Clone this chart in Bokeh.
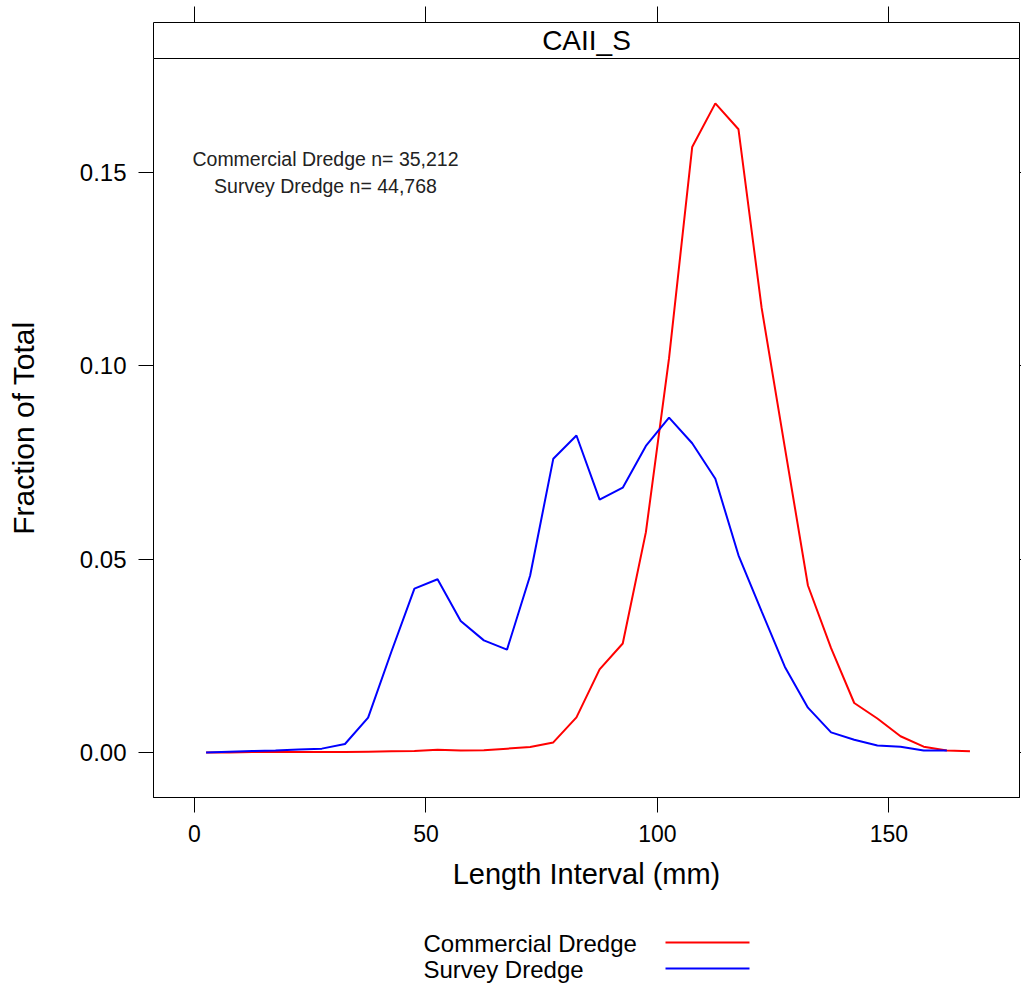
from bokeh.plotting import figure
from bokeh.models import Range1d, FixedTicker, LinearAxis, Label, NumeralTickFormatter
from bokeh.layouts import column
from bokeh.embed import file_html
from bokeh.resources import INLINE

# ---------------- data ----------------
length_mm = [2.5, 7.5, 12.5, 17.5, 22.5, 27.5, 32.5, 37.5, 42.5, 47.5,
             52.5, 57.5, 62.5, 67.5, 72.5, 77.5, 82.5, 87.5, 92.5, 97.5,
             102.5, 107.5, 112.5, 117.5, 122.5, 127.5, 132.5, 137.5, 142.5, 147.5,
             152.5, 157.5, 162.5, 167.5]

commercial = [0.0000, 0.0000, 0.0001, 0.0001, 0.0001, 0.0001, 0.0001, 0.0002, 0.0003, 0.0004,
              0.0007, 0.0005, 0.0006, 0.0010, 0.0014, 0.0026, 0.0091, 0.0215, 0.0282, 0.0570,
              0.1020, 0.1566, 0.1679, 0.1612, 0.1150, 0.0790, 0.0432, 0.0270, 0.0128, 0.0088,
              0.0042, 0.0015, 0.0005, 0.0003]

survey = [0.0000, 0.0002, 0.0004, 0.0005, 0.0008, 0.0010, 0.0022, 0.0090, 0.0260, 0.0424,
          0.0448, 0.0340, 0.0290, 0.0266, 0.0458, 0.0760, 0.0820, 0.0654, 0.0685, 0.0793,
          0.0866, 0.0800, 0.0708, 0.0510, 0.0365, 0.0222, 0.0116, 0.0052, 0.0033, 0.0018,
          0.0015, 0.0005, 0.0005]

panel_title = "CAII_S"
series_names = ["Commercial Dredge", "Survey Dredge"]
series_colors = ["#FF0000", "#0000FF"]
n_counts = ["35,212", "44,768"]
x_ticks = [0, 50, 100, 150]
y_ticks = [0.0, 0.05, 0.10, 0.15]
x_label = "Length Interval (mm)"
y_label = "Fraction of Total"

# ---------------- layout ----------------
FONT = "Liberation Sans"
W = 1021
H_TOTAL = 986
STRIP_TOP, PANEL_TOP, PANEL_BOTTOM = 22, 58, 797
FRAME_L, FRAME_R = 153, 1019
H_STRIP = PANEL_TOP
H_MAIN = 900 - PANEL_TOP
H_LEG = H_TOTAL - H_STRIP - H_MAIN
FRAME_W = FRAME_R - FRAME_L
FRAME_H = PANEL_BOTTOM - PANEL_TOP
X0, X1 = -8.86, 178.2
Y0, Y1 = -0.01164, 0.17951


def px_to_x(px):
    return X0 + (px - FRAME_L) / FRAME_W * (X1 - X0)


def py_to_y(py):
    return Y1 - (py - PANEL_TOP) / FRAME_H * (Y1 - Y0)


def style_axis(ax, tick_out, label_size="23px", standoff=12):
    ax.major_tick_out = tick_out
    ax.major_tick_in = 0
    ax.minor_tick_line_color = None
    ax.axis_line_color = "black"
    ax.major_tick_line_color = "black"
    ax.major_label_text_font = FONT
    ax.major_label_text_font_size = label_size
    ax.major_label_text_color = "black"
    ax.major_label_standoff = standoff
    ax.axis_label_text_font = FONT
    ax.axis_label_text_font_size = "29px"
    ax.axis_label_text_font_style = "normal"
    ax.axis_label_text_color = "black"


def hide_labels(ax, ticks):
    ax.major_label_text_font_size = "0px"
    ax.major_label_standoff = 0
    ax.major_label_overrides = {t: "" for t in ticks}


# ---------------- strip (panel header) ----------------
s = figure(width=W, height=H_STRIP, x_range=Range1d(X0, X1), y_range=Range1d(0, 1),
           output_backend="svg", toolbar_location=None,
           min_border_left=FRAME_L, min_border_right=W - FRAME_R,
           min_border_top=STRIP_TOP, min_border_bottom=0,
           x_axis_location="above", y_axis_location="left")
s.grid.visible = False
s.outline_line_color = None
s.background_fill_color = "white"
s.border_fill_color = "white"
sx_ax = s.xaxis[0]
sx_ax.ticker = FixedTicker(ticks=x_ticks)
style_axis(sx_ax, 16)
hide_labels(sx_ax, x_ticks)
sy_ax = s.yaxis[0]
sy_ax.ticker = FixedTicker(ticks=[])
style_axis(sy_ax, 0)
hide_labels(sy_ax, [])
sr_ax = LinearAxis(ticker=FixedTicker(ticks=[]))
style_axis(sr_ax, 0)
hide_labels(sr_ax, [])
s.add_layout(sr_ax, "right")
s.add_layout(Label(x=(X0 + X1) / 2, y=0.5, text=panel_title,
                   text_align="center", text_baseline="middle",
                   text_font=FONT, text_font_size="28px", text_color="black"))

# ---------------- main panel ----------------
p = figure(width=W, height=H_MAIN, x_range=s.x_range, y_range=Range1d(Y0, Y1),
           output_backend="svg", toolbar_location=None,
           min_border_left=FRAME_L, min_border_right=W - FRAME_R,
           min_border_top=0, min_border_bottom=H_MAIN - FRAME_H,
           x_axis_label=x_label, y_axis_label=y_label)
p.grid.visible = False
p.outline_line_color = "black"
p.outline_line_width = 1
p.background_fill_color = "white"
p.border_fill_color = "white"

xa = p.xaxis[0]
xa.ticker = FixedTicker(ticks=x_ticks)
style_axis(xa, 15)
xa.axis_label_standoff = 13

ya = p.yaxis[0]
ya.ticker = FixedTicker(ticks=y_ticks)
ya.formatter = NumeralTickFormatter(format="0.00")
style_axis(ya, 15, label_size="24px", standoff=12)
ya.axis_label_text_font_size = "30px"
ya.axis_label_standoff = 37

right = LinearAxis(ticker=FixedTicker(ticks=y_ticks))
style_axis(right, 2)
hide_labels(right, y_ticks)
p.add_layout(right, "right")

# data lines
p.line(length_mm, commercial, line_color=series_colors[0], line_width=2)
p.line(length_mm[:len(survey)], survey, line_color=series_colors[1], line_width=2)

# n annotation
for i, py in enumerate([158, 185]):
    p.add_layout(Label(x=px_to_x(325), y=py_to_y(py),
                       text=f"{series_names[i]} n= {n_counts[i]}",
                       text_align="center", text_baseline="middle",
                       text_font=FONT, text_font_size="19.5px", text_color="#222222"))

# ---------------- legend ----------------
q = figure(width=W, height=H_LEG, x_range=Range1d(FRAME_L, FRAME_R), y_range=Range1d(0, H_LEG),
           output_backend="svg", toolbar_location=None,
           min_border_left=FRAME_L, min_border_right=W - FRAME_R,
           min_border_top=0, min_border_bottom=0,
           x_axis_location=None, y_axis_location=None)
q.grid.visible = False
q.outline_line_color = None
q.background_fill_color = "white"
q.border_fill_color = "white"

leg_rows_py = [942, 968]
for i, gpy in enumerate(leg_rows_py):
    ly = H_TOTAL - gpy
    q.add_layout(Label(x=423, y=ly - 1, text=series_names[i], text_align="left",
                       text_baseline="middle", text_font=FONT, text_font_size="24px",
                       text_color="black"))
    q.segment(x0=[665], y0=[ly], x1=[749], y1=[ly], line_color=series_colors[i], line_width=2)

layout = column(s, p, q, spacing=0)
open("out.html", "w").write(file_html(layout, INLINE))
